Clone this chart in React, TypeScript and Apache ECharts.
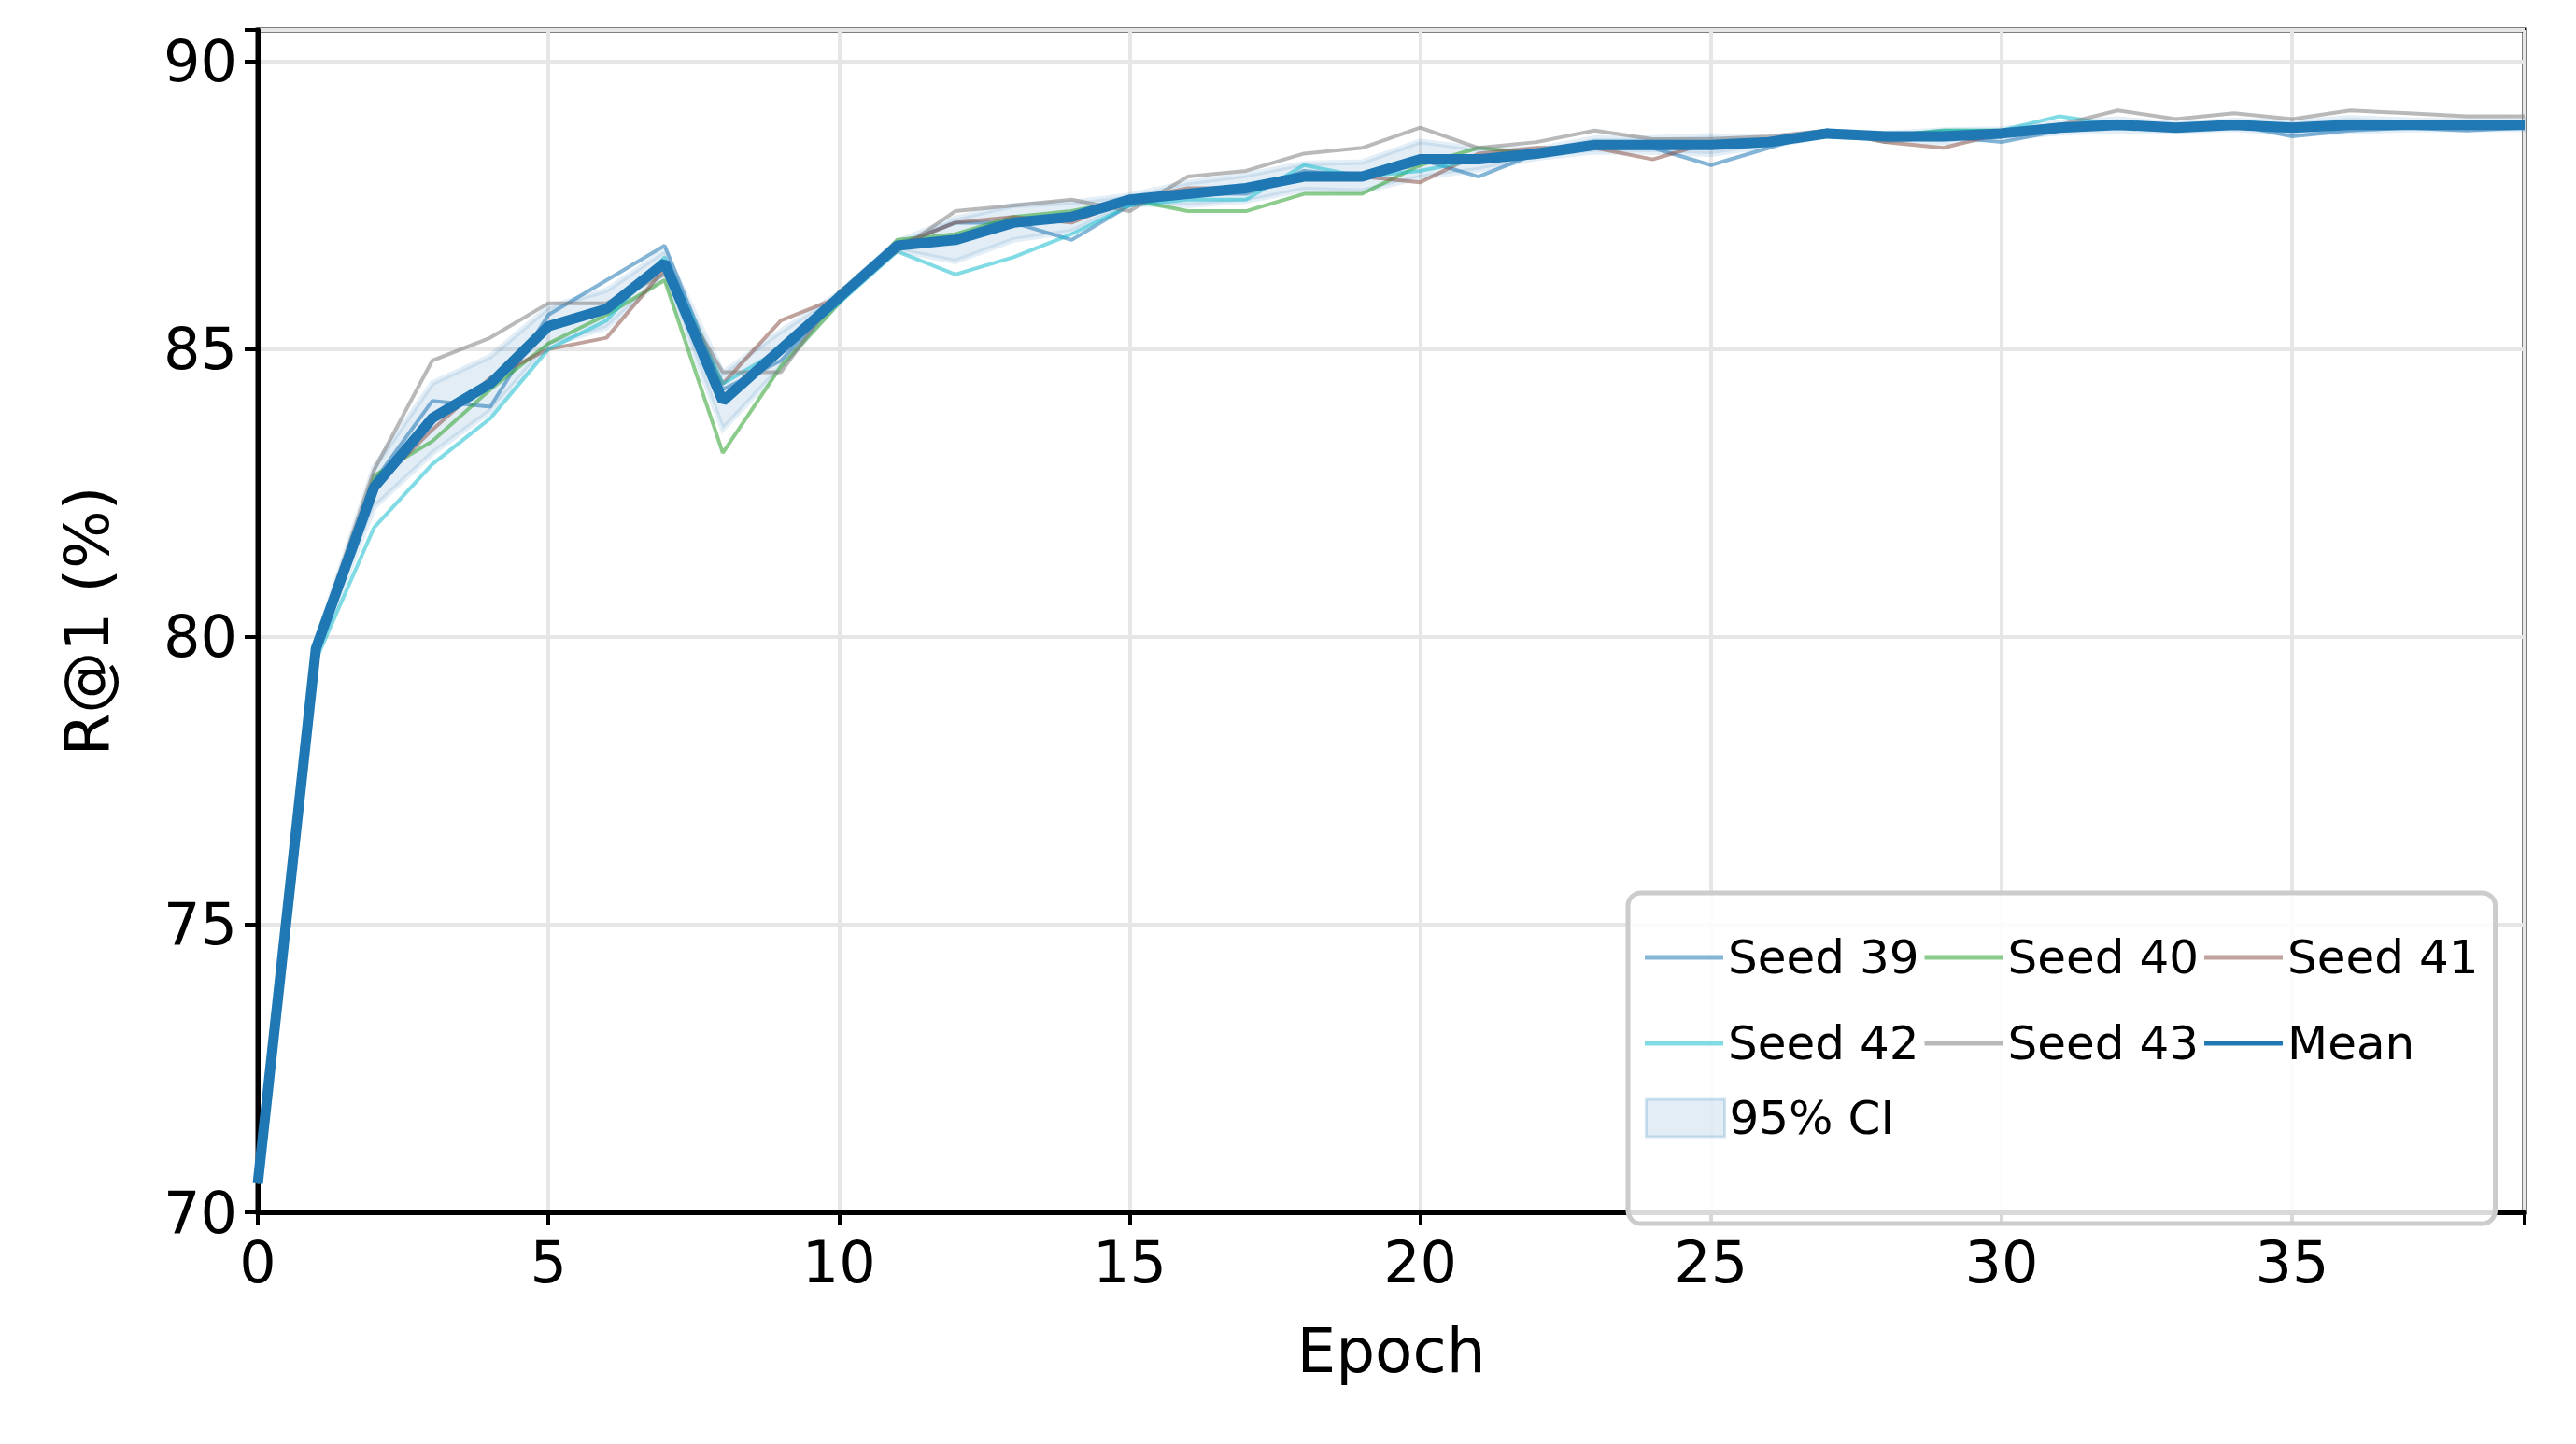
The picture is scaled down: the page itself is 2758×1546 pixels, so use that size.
import React, { useEffect, useRef } from 'react';
import * as echarts from 'echarts';

const epochs = Array.from({ length: 40 }, (_, i) => i);
const seedNames = ['Seed 39', 'Seed 40', 'Seed 41', 'Seed 42', 'Seed 43'];
const seedColors = ['rgba(31,119,180,0.55)', 'rgba(44,160,44,0.55)', 'rgba(140,86,75,0.55)', 'rgba(23,190,207,0.55)', 'rgba(127,127,127,0.55)'];

const seed39 = [70.5, 79.9, 82.7, 84.1, 84.0, 85.6, 86.2, 86.8, 84.3, 84.8, 85.9, 86.8, 87.2, 87.2, 86.9, 87.5, 87.7, 87.7, 88.1, 88.0, 88.3, 88.0, 88.4, 88.5, 88.5, 88.2, 88.5, 88.8, 88.7, 88.7, 88.6, 88.8, 88.9, 88.8, 88.9, 88.7, 88.8, 88.85, 88.8, 88.85];
const seed40 = [70.5, 79.7, 82.8, 83.4, 84.3, 85.1, 85.6, 86.2, 83.2, 84.7, 85.8, 86.9, 87.0, 87.3, 87.4, 87.6, 87.4, 87.4, 87.7, 87.7, 88.2, 88.5, 88.4, 88.5, 88.6, 88.6, 88.6, 88.7, 88.7, 88.8, 88.8, 88.8, 88.9, 88.85, 88.9, 88.9, 88.85, 88.9, 88.9, 88.85];
const seed41 = [70.5, 79.8, 82.6, 83.6, 84.5, 85.0, 85.2, 86.4, 84.4, 85.5, 85.9, 86.8, 87.2, 87.3, 87.2, 87.6, 87.8, 87.8, 88.0, 88.0, 87.9, 88.4, 88.5, 88.5, 88.3, 88.6, 88.6, 88.8, 88.6, 88.5, 88.75, 88.9, 88.9, 88.85, 88.9, 88.9, 88.9, 88.95, 88.9, 88.9];
const seed42 = [70.5, 79.6, 81.9, 83.0, 83.8, 85.0, 85.5, 86.6, 84.4, 85.0, 85.8, 86.7, 86.3, 86.6, 87.0, 87.5, 87.6, 87.6, 88.2, 88.0, 88.1, 88.3, 88.4, 88.5, 88.6, 88.5, 88.6, 88.8, 88.7, 88.8, 88.8, 89.05, 88.9, 88.9, 88.95, 88.9, 88.95, 88.95, 88.9, 88.95];
const seed43 = [70.5, 79.9, 82.9, 84.8, 85.2, 85.8, 85.8, 86.3, 84.6, 84.6, 86.0, 86.7, 87.4, 87.5, 87.6, 87.4, 88.0, 88.1, 88.4, 88.5, 88.85, 88.5, 88.6, 88.8, 88.65, 88.65, 88.7, 88.8, 88.6, 88.7, 88.8, 88.9, 89.15, 89.0, 89.1, 89.0, 89.15, 89.1, 89.05, 89.05];
const meanValues = [70.5, 79.8, 82.6, 83.8, 84.4, 85.4, 85.7, 86.5, 84.1, 85.0, 85.9, 86.8, 86.9, 87.2, 87.3, 87.6, 87.7, 87.8, 88.0, 88.0, 88.3, 88.3, 88.4, 88.55, 88.55, 88.55, 88.6, 88.75, 88.7, 88.7, 88.75, 88.85, 88.9, 88.85, 88.9, 88.85, 88.9, 88.9, 88.9, 88.9];

const seeds = [seed39, seed40, seed41, seed42, seed43];

// 95% CI half-width from the spread of the seeds
const ciHalf = epochs.map((i) => {
  const vals = seeds.map((s) => s[i]);
  const m = vals.reduce((a, b) => a + b, 0) / vals.length;
  const sd = Math.sqrt(vals.reduce((a, b) => a + (b - m) ** 2, 0) / (vals.length - 1));
  return 1.96 * sd / Math.sqrt(vals.length);
});
const ciLower = meanValues.map((v, i) => v - ciHalf[i]);
const ciUpper = meanValues.map((v, i) => v + ciHalf[i]);

const FONT = 'DejaVu Sans';
const CI_FILL = 'rgba(31,119,180,0.13)';

const App: React.FC = () => {
  const chartRef = useRef<HTMLDivElement>(null);

  useEffect(() => {
    document.body.style.margin = '0';
    if (!chartRef.current) return;
    const chart = echarts.init(chartRef.current, undefined, { renderer: 'svg' });
    const legendText = { fontSize: 50, color: '#000', fontFamily: FONT, lineHeight: 86 };
    chart.setOption({
      animation: false,
      backgroundColor: '#ffffff',
      grid: { left: 276, right: 55, top: 32, bottom: 248, show: true, borderColor: '#000', borderWidth: 5 },
      xAxis: {
        type: 'value', min: 0, max: 39, interval: 5,
        name: 'Epoch', nameLocation: 'middle', nameGap: 115,
        nameTextStyle: { fontSize: 66, color: '#000', fontFamily: FONT },
        axisLine: { lineStyle: { color: '#000', width: 5 } },
        axisTick: { length: 14, lineStyle: { color: '#000', width: 4 } },
        axisLabel: { fontSize: 62, color: '#000', fontFamily: FONT, margin: 22, formatter: (v: number) => (v % 5 === 0 ? String(v) : '') },
        splitLine: { show: true, lineStyle: { color: '#e6e6e6', width: 4 } },
      },
      yAxis: {
        type: 'value', min: 70, max: 90.55, interval: 5,
        name: 'R@1 (%)', nameLocation: 'middle', nameGap: 150, nameRotate: 90,
        nameTextStyle: { fontSize: 66, color: '#000', fontFamily: FONT },
        axisLine: { show: true, lineStyle: { color: '#000', width: 5 } },
        axisTick: { length: 14, lineStyle: { color: '#000', width: 4 } },
        axisLabel: { fontSize: 62, color: '#000', fontFamily: FONT, margin: 22, formatter: (v: number) => (v % 5 === 0 ? String(v) : '') },
        splitLine: { show: true, lineStyle: { color: '#e6e6e6', width: 4 } },
      },
      legend: [
        {
          left: 1743, top: 956,
          width: 1000,
          padding: [26, 18, 150, 18],
          borderColor: '#cccccc', borderWidth: 5, borderRadius: 14,
          backgroundColor: 'rgba(255,255,255,0.85)',
          itemWidth: 84, itemHeight: 5, itemGap: 6,
          icon: 'rect',
          textStyle: legendText,
          data: [...seedNames, 'Mean'],
        },
        {
          left: 1761, top: 1154,
          padding: 0,
          itemWidth: 84, itemHeight: 40,
          textStyle: legendText,
          data: [{ name: '95% CI', icon: 'rect', itemStyle: { color: CI_FILL, borderColor: 'rgba(31,119,180,0.2)', borderWidth: 3 } }],
        },
      ],
      series: [
        {
          name: '95% CI', type: 'custom', silent: true, z: 1,
          itemStyle: { color: CI_FILL },
          data: epochs.map((e, i) => [e, ciLower[i], ciUpper[i]]),
          renderItem: (params: any, api: any) => {
            if (params.dataIndex !== 0) return null;
            const upper = epochs.map((e, i) => api.coord([e, ciUpper[i]]));
            const lower = epochs.map((e, i) => api.coord([e, ciLower[i]])).reverse();
            return {
              type: 'polygon',
              shape: { points: [...upper, ...lower] },
              style: { fill: CI_FILL, stroke: 'rgba(31,119,180,0.12)', lineWidth: 6 },
            };
          },
        },
        ...seeds.map((s, k) => ({
          name: seedNames[k], type: 'line', symbol: 'none', z: 3,
          data: epochs.map((e, i) => [e, s[i]]),
          lineStyle: { color: seedColors[k], width: 4 },
          itemStyle: { color: seedColors[k] },
        })),
        {
          name: 'Mean', type: 'line', symbol: 'none', z: 5,
          data: epochs.map((e, i) => [e, meanValues[i]]),
          lineStyle: { color: '#1f77b4', width: 11 },
          itemStyle: { color: '#1f77b4' },
        },
      ],
    });
    return () => chart.dispose();
  }, []);

  return <div ref={chartRef} style={{ width: 2758, height: 1546 }} />;
};

export default App;
